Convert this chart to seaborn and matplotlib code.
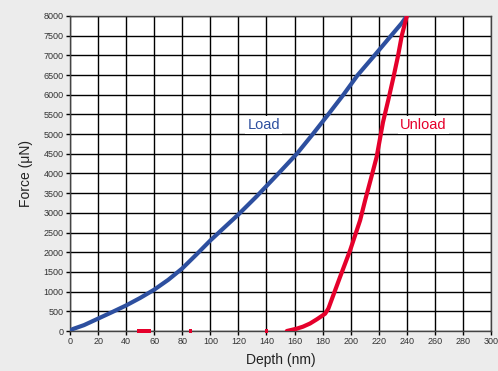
import pandas as pd
import matplotlib.pyplot as plt
import seaborn as sns
import numpy as np

sns.set_style("white")
plt.rcParams['font.family'] = ['Liberation Sans', 'DejaVu Sans']

# Load curve (depth nm, force uN)
load_depth = [0, 2, 10, 20, 30, 40, 50, 60, 70, 80, 90, 100, 110, 120, 133,
              148.5, 161.6, 173, 184, 194.8, 205, 217, 228.8, 236.4, 239, 240]
load_force = [0, 50, 150, 315, 480, 650, 840, 1050, 1300, 1590, 1940, 2300, 2630, 2960, 3420,
              4000, 4500, 5000, 5500, 6000, 6500, 7000, 7500, 7820, 7950, 8000]

# Unload curve
unload_depth = [240, 236.4, 233.8, 230.5, 227.2, 223, 218.5, 214.5, 210.3, 206.7, 199.6, 192.4,
                184.1, 181.8, 176, 171, 166, 161.6, 154.5]
unload_force = [8000, 7500, 7000, 6450, 5930, 5300, 4420, 3880, 3320, 2810, 2050, 1370,
                570, 440, 300, 190, 110, 60, 0]

# stray points of the unload signal sitting on zero
stray_depth = [48.7, 50.5, 52, 53.5, 55, 56.5, 86, 140]
stray_force = [0, 0, 0, 0, 0, 0, 0, 0]

load_df = pd.DataFrame({'Depth': load_depth, 'Force': load_force})
unload_df = pd.DataFrame({'Depth': unload_depth, 'Force': unload_force})
stray_df = pd.DataFrame({'Depth': stray_depth, 'Force': stray_force})

blue = '#2d4f9f'
red = '#e5002b'

fig = plt.figure(figsize=(4.98, 3.71), dpi=100)
fig.patch.set_facecolor('#ececec')
ax = fig.add_axes([0.1406, 0.1078, 0.8454, 0.8491])
ax.set_facecolor('white')

sns.lineplot(data=load_df, x='Depth', y='Force', sort=False, color=blue, lw=3, ax=ax, zorder=3)
sns.lineplot(data=unload_df, x='Depth', y='Force', sort=False, color=red, lw=3, ax=ax, zorder=4)
sns.scatterplot(data=stray_df, x='Depth', y='Force', color=red, marker='s', s=6,
                edgecolor='none', ax=ax, zorder=4, clip_on=False)

ax.set_xlim(0, 300)
ax.set_ylim(0, 8000)
ax.set_xticks(np.arange(0, 301, 20))
ax.set_yticks(np.arange(0, 8001, 500))
ax.grid(True, color='black', lw=1)
ax.set_axisbelow(True)
for s in ax.spines.values():
    s.set_color('#444444')
    s.set_linewidth(1)

ax.tick_params(axis='both', which='major', labelsize=6.5, length=3, width=1,
               color='black', direction='out', bottom=True, left=True, pad=1.5,
               labelcolor='#333333')
ax.set_xlabel('Depth (nm)', fontsize=10, color='#222222', labelpad=5)
ax.set_ylabel('Force (\u03bcN)', fontsize=10, color='#222222', labelpad=8)

ax.text(138, 5224, 'Load', color=blue, fontsize=10.5, ha='center', va='center',
        bbox=dict(facecolor='white', edgecolor='none', pad=1.5), zorder=5)
ax.text(252, 5224, 'Unload', color=red, fontsize=10.5, ha='center', va='center',
        bbox=dict(facecolor='white', edgecolor='none', pad=1.5), zorder=5)

plt.savefig('out.png', dpi=100, facecolor=fig.get_facecolor())
plt.close()
